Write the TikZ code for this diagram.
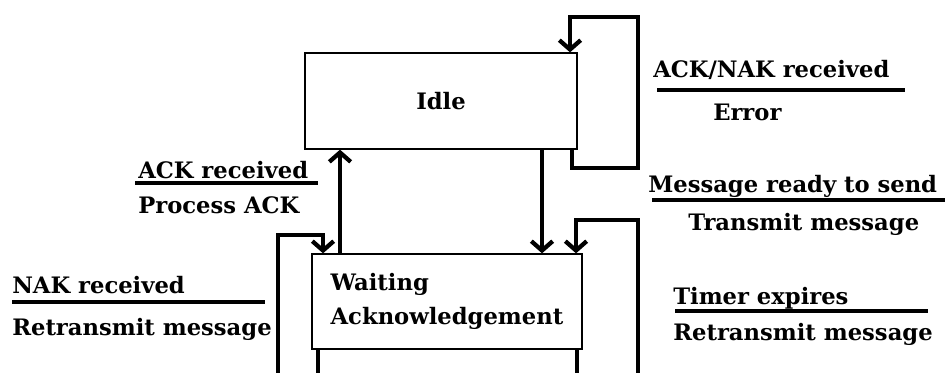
\documentclass[tikz,border=0pt]{standalone}
\usepackage{fontspec}
\setmainfont{DejaVu Serif}
\usetikzlibrary{arrows.meta}

\begin{document}
\begin{tikzpicture}[x=0.75pt,y=0.75pt,yscale=-1,xscale=1,
  statebox/.style={draw, line width=1pt, inner sep=0pt, font=\bfseries\fontsize{17}{25.5}\selectfont},
  flow/.style={line width=3.2pt, line join=miter, -{Straight Barb[length=7pt,width=16pt]}},
  rule/.style={line width=3pt},
  lbl/.style={anchor=base west, inner sep=0pt, font=\bfseries\fontsize{17}{20}\selectfont}]
\useasboundingbox (0,0) rectangle (945,372);
\clip (0,0) rectangle (945,372);

%Shape: Rectangle
\node [statebox, minimum width=204pt, minimum height=72pt] (idle) at (441,101) {Idle};
%Shape: Rectangle
\node [statebox, minimum width=202.5pt, minimum height=71.25pt, align=left] (wait) at (447,301.5) {Waiting\\Acknowledgement};

%Straight Lines
\draw [flow] (wait.north -| 340,0) -- (idle.south -| 340,0);
%Straight Lines
\draw [flow] (idle.south -| 542,0) -- (wait.north -| 542,0);
%Straight Lines
\draw [flow] (idle.south -| 572,0) -- (572,168) -- (638,168) -- (638,17) -- (570,17) -- (idle.north -| 570,0);
%Straight Lines
\draw [flow] (wait.south -| 318,0) -- (318,380) -- (278,380) -- (278,235) -- (323,235) -- (wait.north -| 323,0);
%Straight Lines
\draw [flow] (wait.south -| 577,0) -- (577,380) -- (638,380) -- (638,220) -- (576,220) -- (wait.north -| 576,0);

%Straight Lines
\draw [rule] (657,90) -- (905,90);
\draw [rule] (135,183) -- (318,183);
\draw [rule] (12,302) -- (265,302);
\draw [rule] (652,200) -- (945,200);
\draw [rule] (675,311) -- (928,311);

% Text Node
\node [lbl] (acknakin) at (653,77) {ACK/NAK received};
% Text Node
\node [lbl] (errorout) at (713,120) {Error};
% Text Node
\node [lbl] (ackin) at (138,178) {ACK received};
% Text Node
\node [lbl] (ackout) at (138,213) {Process ACK};
% Text Node
\node [lbl] (nakin) at (12,293) {NAK received};
% Text Node
\node [lbl] (nakout) at (12,335) {Retransmit message};
% Text Node
\node [lbl] (msgin) at (648,192) {Message ready to send};
% Text Node
\node [lbl] (msgout) at (688,230) {Transmit message};
% Text Node
\node [lbl] (timerin) at (673,304) {Timer expires};
% Text Node
\node [lbl] (timerout) at (673,340) {Retransmit message};

\end{tikzpicture}
\end{document}
